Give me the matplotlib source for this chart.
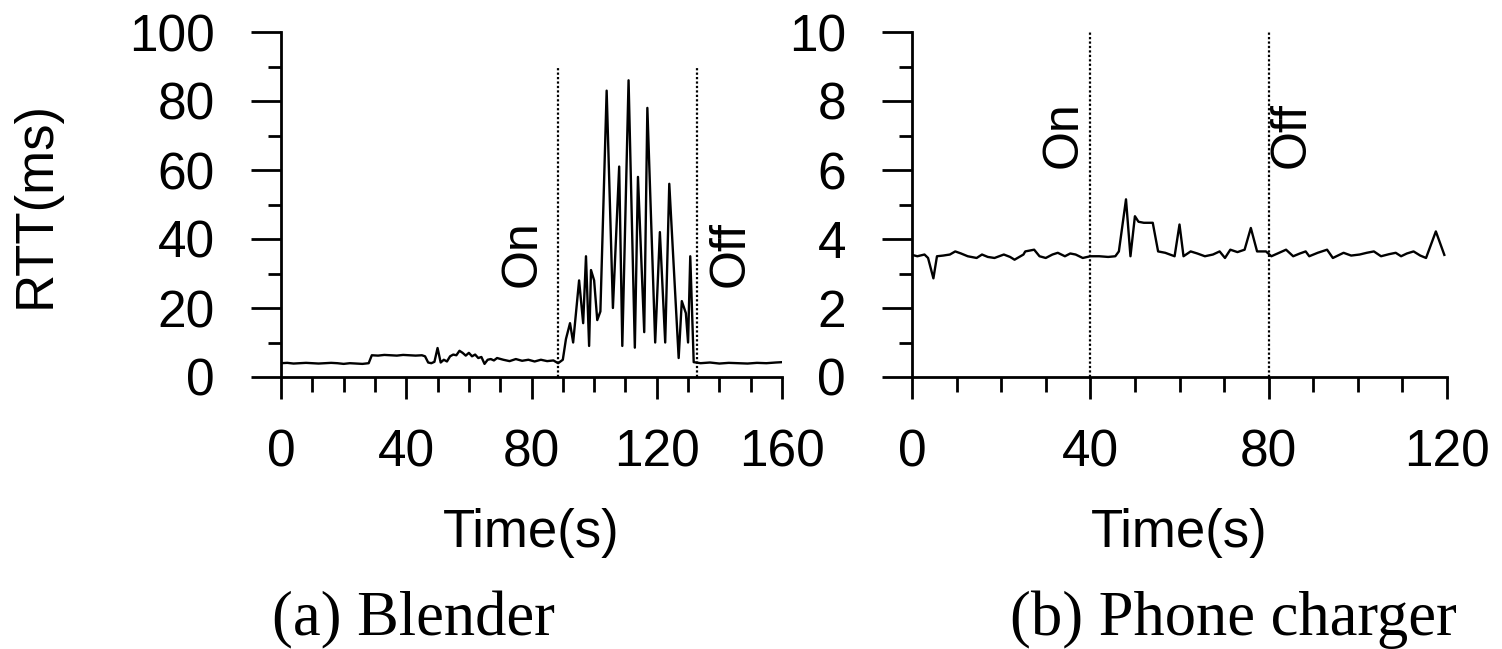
import matplotlib
matplotlib.use("Agg")
import matplotlib.pyplot as plt
from matplotlib.ticker import MultipleLocator

plt.rcParams['font.family'] = ['Liberation Sans', 'DejaVu Sans']

# (a) Blender: time (s) and RTT (ms)
blender_t = [0, 2, 4, 6, 8, 10, 12, 14, 16, 18, 20, 22, 24, 26, 28,
             29, 31, 33, 35, 37, 39, 41, 43, 45, 46, 47, 48, 49, 50, 51,
             52, 53, 54, 55, 56, 57, 58, 59, 60, 61, 62, 63, 64, 65, 66,
             67, 68, 69, 71, 73, 75, 77, 79, 81, 83, 85, 87, 88.5,
             90, 91, 92.3, 93.3, 95.2, 96.5, 97.4, 98.4, 99, 100, 101, 102,
             104, 106, 108, 109, 111, 113, 114, 116, 117, 119.5, 121, 122.7,
             124, 127, 128, 129.3, 130, 130.7, 131.8,
             134, 137, 140, 143, 146, 149, 152, 155, 158, 160]
blender_rtt = [4.0, 4.1, 3.9, 4.0, 4.1, 4.0, 3.9, 4.0, 4.1, 4.0, 3.8, 4.0, 3.9, 3.8, 4.0,
               6.3, 6.2, 6.4, 6.3, 6.2, 6.4, 6.3, 6.2, 6.3, 6.0, 4.2, 4.0, 4.4, 8.4, 4.2,
               5.0, 4.5, 6.0, 6.5, 6.3, 7.6, 7.0, 6.2, 7.0, 6.0, 6.5, 5.5, 5.8, 3.8, 5.0,
               5.2, 4.8, 5.5, 5.0, 4.6, 5.2, 4.7, 5.0, 4.5, 5.0, 4.6, 4.8, 4.0,
               5.0, 11.0, 15.6, 10.0, 28.0, 15.6, 35.0, 9.0, 31.0, 28.0, 16.5, 19.0,
               83.0, 20.0, 61.0, 9.0, 86.0, 8.5, 58.0, 13.0, 78.0, 10.0, 42.0, 10.0,
               56.0, 5.5, 22.0, 18.5, 10.0, 35.0, 4.3,
               4.0, 4.2, 3.9, 4.1, 4.0, 3.9, 4.1, 4.0, 4.2, 4.3]
blender_on, blender_off = 88.5, 133

# (b) Phone charger: time (s) and RTT (ms)
charger_t = [0, 1.2, 2.8, 3.6, 4.8, 5.6, 7, 8.5, 9.7, 11, 12.5, 14.5, 15.7, 17, 18.5,
             20.6, 22, 23, 25, 25.4, 27.4, 28.6, 30, 31.5, 32.7, 34.3, 35.5, 36.7, 38.3,
             40, 42, 44, 45.6, 46.4, 48, 49, 50, 50.8, 52, 54, 55.2, 56.8, 58.9, 60,
             60.9, 62.5, 64, 65.7, 67.5, 69, 70.2, 71.4, 73, 74.6, 76, 77.4, 79.4, 80.6,
             82, 83.9, 85.5, 87, 88.3, 89.1, 91, 93.1, 94.4, 96.8, 98.5, 100.4, 102,
             103.6, 105.2, 107, 108.5, 109.7, 111, 112.5, 114, 115.3, 117.5, 119.4]
charger_rtt = [3.54, 3.50, 3.55, 3.45, 2.86, 3.50, 3.52, 3.55, 3.64, 3.58, 3.50, 3.45, 3.55,
               3.48, 3.45, 3.55, 3.48, 3.40, 3.55, 3.64, 3.69, 3.50, 3.45, 3.55, 3.60, 3.50,
               3.58, 3.55, 3.45, 3.50, 3.50, 3.48, 3.50, 3.64, 5.15, 3.50, 4.66, 4.50, 4.47,
               4.47, 3.64, 3.60, 3.50, 4.42, 3.50, 3.64, 3.58, 3.50, 3.55, 3.64, 3.45, 3.69,
               3.62, 3.69, 4.32, 3.64, 3.64, 3.50, 3.58, 3.69, 3.50, 3.58, 3.64, 3.50, 3.60,
               3.69, 3.45, 3.60, 3.52, 3.55, 3.60, 3.64, 3.50, 3.56, 3.60, 3.50, 3.58, 3.64,
               3.52, 3.45, 4.22, 3.54]
charger_on, charger_off = 40, 80

W, H = 1502, 649
fig = plt.figure(figsize=(W / 100, H / 100), dpi=100)


def px_axes(x0, x1, y0, y1):
    return fig.add_axes([x0 / W, 1 - y1 / H, (x1 - x0) / W, (y1 - y0) / H])


def style(ax, xmax, xmaj, xmin, ymax, ymaj, ymin):
    ax.set_xlim(0, xmax)
    ax.set_ylim(0, ymax)
    ax.xaxis.set_major_locator(MultipleLocator(xmaj))
    ax.xaxis.set_minor_locator(MultipleLocator(xmin))
    ax.yaxis.set_major_locator(MultipleLocator(ymaj))
    ax.yaxis.set_minor_locator(MultipleLocator(ymin))
    for s in ['top', 'right']:
        ax.spines[s].set_visible(False)
    for s in ['left', 'bottom']:
        ax.spines[s].set_linewidth(2.0)
    ax.tick_params(axis='x', which='major', direction='out', length=16, width=2.0,
                   pad=21, labelsize=37)
    ax.tick_params(axis='x', which='minor', direction='out', length=11, width=2.0)
    ax.tick_params(axis='y', which='major', direction='out', length=21.5, width=2.0,
                   pad=26, labelsize=37)
    ax.tick_params(axis='y', which='minor', direction='out', length=9.5, width=2.0)
    ax.set_xlabel('Time(s)', fontsize=38, labelpad=22)


# (a) Blender
ax1 = px_axes(281, 782, 32, 377)
ax1.plot(blender_t, blender_rtt, color='black', linewidth=1.7)
style(ax1, 160, 40, 10, 100, 20, 10)
ax1.vlines([blender_on, blender_off], 0, 90, colors='black', linestyles=(0, (1, 1)),
           linewidth=1.6)
ax1.annotate('On', xy=(blender_on, 26), xytext=(-9, 0), textcoords='offset points',
             rotation=90, ha='right', va='bottom', fontsize=36)
ax1.annotate('Off', xy=(blender_off, 26), xytext=(7, 0), textcoords='offset points',
             rotation=90, ha='left', va='bottom', fontsize=36)
ax1.set_ylabel('RTT(ms)', fontsize=38)
ax1.yaxis.set_label_coords(-0.439, 0.5)

# (b) Phone charger
ax2 = px_axes(912, 1447, 32, 377)
ax2.plot(charger_t, charger_rtt, color='black', linewidth=1.7)
style(ax2, 120, 40, 10, 10, 2, 1)
ax2.vlines([charger_on, charger_off], 0, 10, colors='black', linestyles=(0, (1, 1)),
           linewidth=1.6)
ax2.annotate('On', xy=(charger_on, 6.06), xytext=(-3, 0), textcoords='offset points',
             rotation=90, ha='right', va='bottom', fontsize=36)
ax2.annotate('Off', xy=(charger_off, 6.06), xytext=(0, 0), textcoords='offset points',
             rotation=90, ha='left', va='bottom', fontsize=36)

fig.text(413 / W, 1 - 635 / H, '(a) Blender', family=['Liberation Serif', 'DejaVu Serif'],
         fontsize=45, ha='center', va='baseline')
fig.text(1233 / W, 1 - 635 / H, '(b) Phone charger', family=['Liberation Serif', 'DejaVu Serif'],
         fontsize=45, ha='center', va='baseline')

fig.savefig('out.png', dpi=100)
